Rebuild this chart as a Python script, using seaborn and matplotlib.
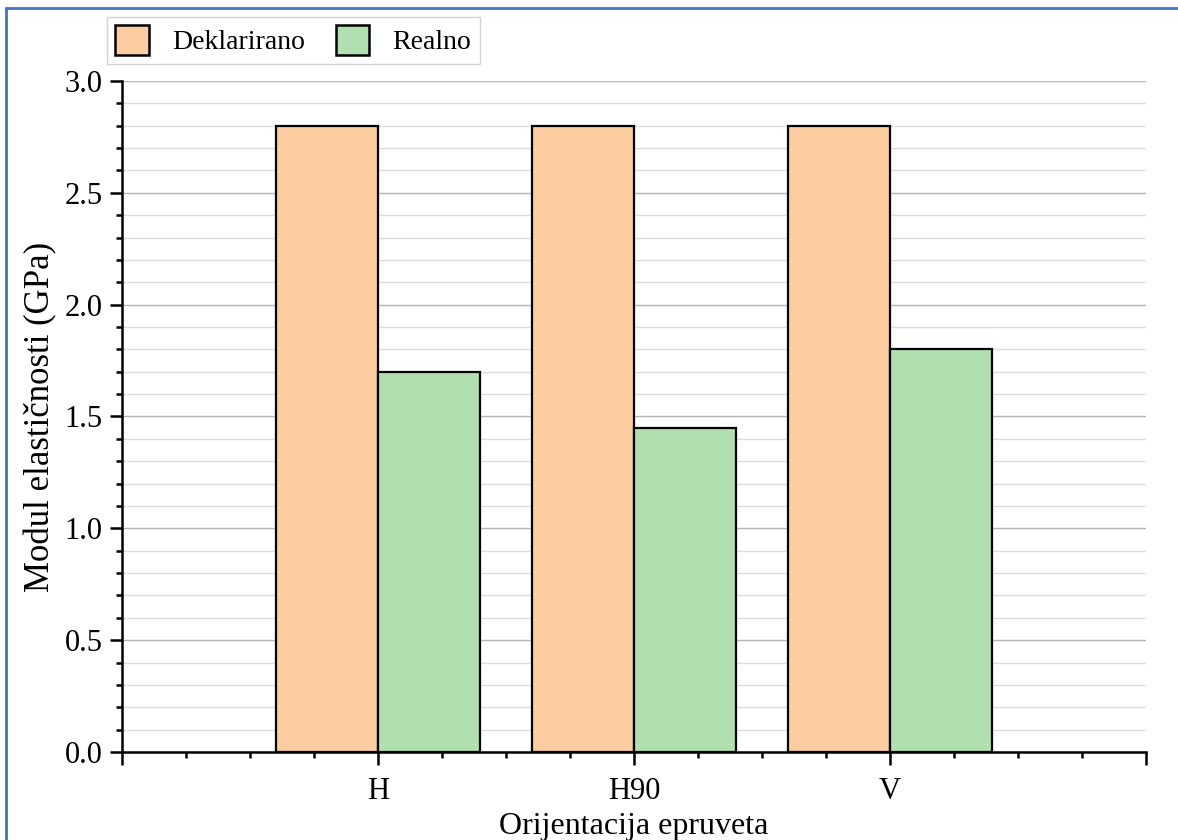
import matplotlib
matplotlib.use("Agg")
import matplotlib.pyplot as plt
import seaborn as sns
import pandas as pd
import numpy as np
from matplotlib.patches import Patch, Rectangle
from matplotlib.ticker import MultipleLocator

categories = ["H", "H90", "V"]
series_names = ["Deklarirano", "Realno"]
deklarirano = [2.8, 2.8, 2.8]
realno = [1.7, 1.45, 1.8]
colors = ["#FBCDA0", "#B0DFB0"]

df = pd.DataFrame({
    "Orijentacija": categories * 2,
    "Serija": [series_names[0]] * 3 + [series_names[1]] * 3,
    "Vrijednost": deklarirano + realno,
})

sns.set_theme(style="white")
plt.rcParams["font.family"] = ["Liberation Serif", "DejaVu Serif"]
plt.rcParams["text.color"] = "black"
plt.rcParams["axes.labelcolor"] = "black"
plt.rcParams["xtick.color"] = "black"
plt.rcParams["ytick.color"] = "black"

fig = plt.figure(figsize=(11.78, 8.40), dpi=100)
ax = fig.add_axes([0.1036, 0.1048, 0.8692, 0.7988])

sns.barplot(data=df, x="Orijentacija", y="Vrijednost", hue="Serija",
            palette=colors, saturation=1, edgecolor="black", linewidth=1.6,
            width=0.8, ax=ax, legend=False, errorbar=None, zorder=3)

ax.set_xlim(-1, 3)
ax.set_ylim(0, 3.0)
ax.set_xticks([-1, 0, 1, 2, 3])
ax.set_xticklabels(["", "H", "H90", "V", ""])
ax.xaxis.set_minor_locator(MultipleLocator(0.25))
ax.yaxis.set_minor_locator(MultipleLocator(0.1))
ax.set_yticks(np.arange(0, 3.01, 0.5))
ax.set_yticklabels([f"{v:.1f}" for v in np.arange(0, 3.01, 0.5)])

ax.grid(True, which="major", axis="y", color="#B4B4B4", linewidth=1.0, zorder=0)
ax.grid(True, which="minor", axis="y", color="#DCDCDC", linewidth=1.0, zorder=0)
ax.set_axisbelow(True)

for s in ["top", "right"]:
    ax.spines[s].set_visible(False)
for s in ["left", "bottom"]:
    ax.spines[s].set_color("black")
    ax.spines[s].set_linewidth(1.8)

ax.tick_params(axis="both", which="major", direction="out", length=9, width=1.8,
               color="black", labelcolor="black", labelsize=22, bottom=True, left=True)
ax.tick_params(axis="y", which="major", pad=5)
ax.tick_params(axis="x", which="major", pad=9)
ax.tick_params(axis="both", which="minor", direction="out", length=4.5, width=1.8,
               color="black", bottom=True, left=True)

ax.set_xlabel("Orijentacija epruveta", fontsize=23, labelpad=4, color="black")
ax.set_ylabel("Modul elastičnosti (GPa)", fontsize=25, labelpad=5, color="black")

handles = [Patch(facecolor=colors[i], edgecolor="black", linewidth=1.8, label=series_names[i])
           for i in range(2)]
leg = fig.legend(handles=handles, loc="upper left", bbox_to_anchor=(107 / 1178, 1 - 17 / 840),
                 ncol=2, fontsize=20, frameon=True, fancybox=False,
                 handlelength=1.2, handleheight=1.25, columnspacing=1.1,
                 borderpad=0.3, handletextpad=0.85, borderaxespad=0)
leg.get_frame().set_edgecolor("#C8C8C8")
leg.get_frame().set_linewidth(1.0)
for t in leg.get_texts():
    t.set_color("black")

fig.patches.append(Rectangle((6 / 1178, -0.05), 1.2, 1 - 8 / 840 + 0.05,
                             transform=fig.transFigure, fill=False,
                             edgecolor="#4472C4", linewidth=2.0))

fig.savefig("out.png", dpi=100)
